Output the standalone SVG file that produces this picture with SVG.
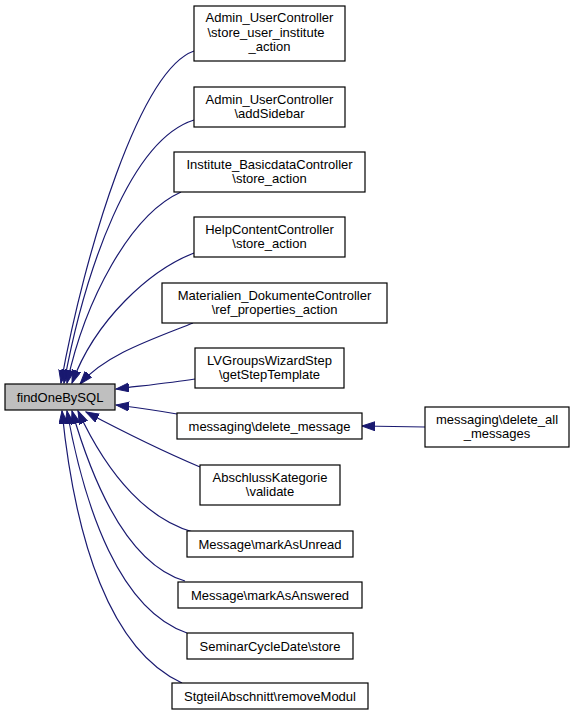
<svg xmlns="http://www.w3.org/2000/svg" width="575" height="715" viewBox="0 0 575 715">
<style>
.n rect{fill:#ffffff;stroke:#000000;stroke-width:1.2}
.n text{font-family:"Liberation Sans",Arial,Helvetica,sans-serif;font-size:13px;fill:#000000;text-anchor:middle}
#find rect{fill:#bfbfbf}
.e path{fill:none;stroke:#191970;stroke-width:1.2}
</style>
<defs>
<marker id="ah" markerUnits="userSpaceOnUse" markerWidth="14" markerHeight="10" refX="13" refY="4.5" orient="auto">
<path d="M0,0 L13,4.5 L0,9 z" fill="#191970" stroke="#191970" stroke-width="1"/>
</marker>
</defs>
<rect width="575" height="715" fill="#ffffff"/>
<g id="edges" class="e">
<path d="M194,51 C140,70 85,250 61,383" marker-end="url(#ah)"/>
<path d="M194,120 C130,140 85,270 64,383" marker-end="url(#ah)"/>
<path d="M181,192 C130,215 85,300 67,383" marker-end="url(#ah)"/>
<path d="M194,253 C150,270 95,320 72,383" marker-end="url(#ah)"/>
<path d="M193,323 C150,340 105,355 80,384" marker-end="url(#ah)"/>
<path d="M195,379 C170,383 140,386 116,389" marker-end="url(#ah)"/>
<path d="M177,414 C160,411 140,408 116,405" marker-end="url(#ah)"/>
<path d="M200,467 C160,450 120,430 86,412" marker-end="url(#ah)"/>
<path d="M193,532 C150,520 110,480 78,411" marker-end="url(#ah)"/>
<path d="M185,581 C130,565 95,490 72,411" marker-end="url(#ah)"/>
<path d="M187,633 C120,610 85,510 67,411" marker-end="url(#ah)"/>
<path d="M182,683 C110,650 75,540 62,411" marker-end="url(#ah)"/>
<path d="M425,427 L362,426" marker-end="url(#ah)"/>
</g>
<g id="find" class="n"><rect x="5" y="384" width="110" height="26"/><text x="60" y="401.5">findOneBySQL</text></g>
<g id="n1" class="n"><rect x="194" y="6" width="151" height="55"/><text x="269.5" y="22">Admin_UserController</text><text x="266" y="36.5">\store_user_institute</text><text x="269.5" y="51">_action</text></g>
<g id="n2" class="n"><rect x="194" y="87" width="151" height="40"/><text x="269.5" y="104">Admin_UserController</text><text x="269.5" y="118">\addSidebar</text></g>
<g id="n3" class="n"><rect x="174" y="152" width="191" height="40"/><text x="269.5" y="169">Institute_BasicdataController</text><text x="269.5" y="183">\store_action</text></g>
<g id="n4" class="n"><rect x="194" y="217" width="151" height="40"/><text x="269.5" y="234">HelpContentController</text><text x="269.5" y="248">\store_action</text></g>
<g id="n5" class="n"><rect x="162" y="283" width="225" height="40"/><text x="274.5" y="300">Materialien_DokumenteController</text><text x="274.5" y="314">\ref_properties_action</text></g>
<g id="n6" class="n"><rect x="195" y="348" width="149" height="40"/><text x="269.5" y="365">LVGroupsWizardStep</text><text x="269.5" y="379">\getStepTemplate</text></g>
<g id="n7" class="n"><rect x="177" y="413" width="185" height="26"/><text x="269.5" y="430.5">messaging\delete_message</text></g>
<g id="n13" class="n"><rect x="425" y="407" width="144" height="40"/><text x="497" y="424">messaging\delete_all</text><text x="497" y="438">_messages</text></g>
<g id="n8" class="n"><rect x="200" y="465" width="140" height="40"/><text x="270" y="482">AbschlussKategorie</text><text x="270" y="496">\validate</text></g>
<g id="n9" class="n"><rect x="187" y="531" width="166" height="26"/><text x="270" y="548.5">Message\markAsUnread</text></g>
<g id="n10" class="n"><rect x="178" y="582" width="184" height="26"/><text x="270" y="599.5">Message\markAsAnswered</text></g>
<g id="n11" class="n"><rect x="187" y="633" width="166" height="26"/><text x="270" y="650.5">SeminarCycleDate\store</text></g>
<g id="n12" class="n"><rect x="172" y="683" width="196" height="26"/><text x="270" y="700.5">StgteilAbschnitt\removeModul</text></g>
</svg>
